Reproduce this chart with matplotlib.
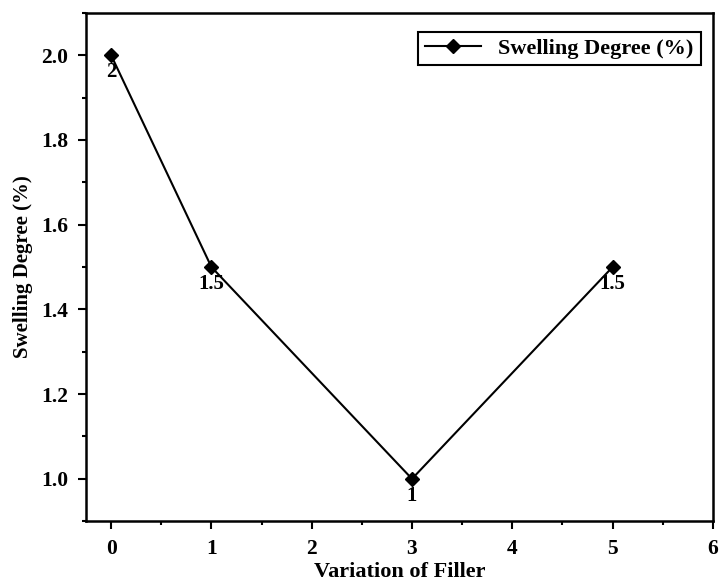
import matplotlib.pyplot as plt
from matplotlib.ticker import MultipleLocator

filler = [0, 1, 3, 5]
swelling = [2, 1.5, 1, 1.5]
point_labels = ['2', '1.5', '1', '1.5']

plt.rcParams['font.family'] = ['Liberation Serif', 'DejaVu Serif']
plt.rcParams['font.weight'] = 'bold'

fig = plt.figure(figsize=(7.23, 5.83), dpi=100)
ax = fig.add_axes([0.119, 0.106, 0.867, 0.872])

ax.plot(filler, swelling, color='black', marker='D', markersize=7, linewidth=1.5,
        label='Swelling Degree (%)')
for x, y, t in zip(filler, swelling, point_labels):
    ax.annotate(t, (x, y), xytext=(0, -5), textcoords='offset points',
                ha='center', va='top', fontsize=15, fontweight='bold')

ax.set_xlim(-0.25, 6)
ax.set_ylim(0.9, 2.1)
ax.xaxis.set_major_locator(MultipleLocator(1))
ax.xaxis.set_minor_locator(MultipleLocator(0.5))
ax.yaxis.set_major_locator(MultipleLocator(0.2))
ax.yaxis.set_minor_locator(MultipleLocator(0.1))
ax.yaxis.set_major_formatter(plt.FormatStrFormatter('%.1f'))

ax.tick_params(which='major', direction='out', length=6, width=1.5, labelsize=15.5, pad=7)
ax.tick_params(which='minor', direction='out', length=3, width=1.5)
for s in ax.spines.values():
    s.set_linewidth(1.8)

ax.set_xlabel('Variation of Filler', fontsize=16, fontweight='bold', labelpad=2)
ax.set_ylabel('Swelling Degree (%)', fontsize=15, fontweight='bold', labelpad=6)

leg = ax.legend(loc='upper right', bbox_to_anchor=(0.998, 0.985), fontsize=16,
                fancybox=False, edgecolor='black', framealpha=1,
                handlelength=2.5, borderpad=0.3)
leg.get_frame().set_linewidth(1.5)
for t in leg.get_texts():
    t.set_fontweight('bold')

fig.savefig('out.png', dpi=100)
